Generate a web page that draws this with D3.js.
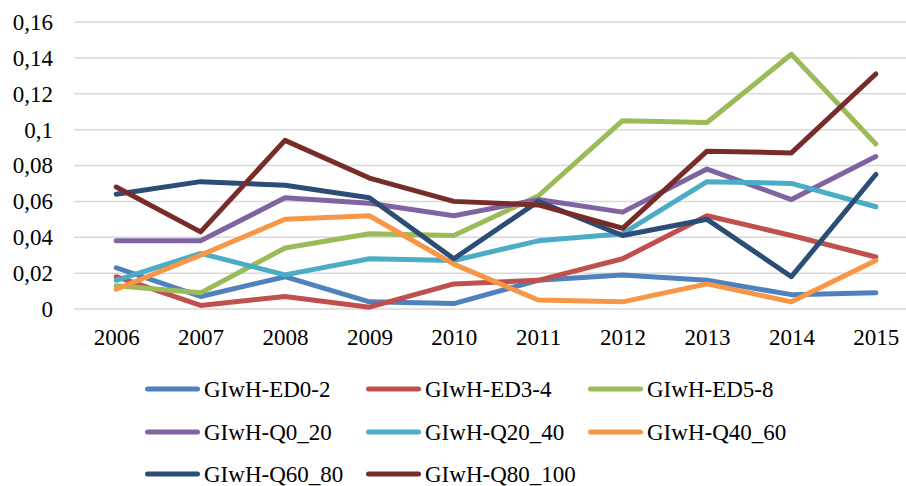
<!DOCTYPE html>
<html>
<head>
<meta charset="utf-8">
<script src="https://cdn.jsdelivr.net/npm/d3@7"></script>
<style>
  html, body { margin: 0; padding: 0; background: #fff; }
  svg { display: block; }
  svg text { font-family: "Liberation Serif", "DejaVu Serif", "Times New Roman", Times, serif !important; }
</style>
</head>
<body>
<div id="chart"></div>
<script>
// Chart data
const years = ["2006", "2007", "2008", "2009", "2010", "2011", "2012", "2013", "2014", "2015"];
const yTicks = [0, 0.02, 0.04, 0.06, 0.08, 0.1, 0.12, 0.14, 0.16];

const seriesNames = ["GIwH-ED0-2", "GIwH-ED3-4", "GIwH-ED5-8", "GIwH-Q0_20", "GIwH-Q20_40",
    "GIwH-Q40_60", "GIwH-Q60_80", "GIwH-Q80_100"];
const seriesColors = ["#4F81BD", "#C0504D", "#9BBB59", "#8064A2", "#4BACC6", "#F79646", "#2C4D75", "#772C2A"];

const ed0_2   = [0.023, 0.007, 0.018, 0.004, 0.003, 0.016, 0.019, 0.016, 0.008, 0.009];
const ed3_4   = [0.018, 0.002, 0.007, 0.001, 0.014, 0.016, 0.028, 0.052, 0.041, 0.029];
const ed5_8   = [0.013, 0.009, 0.034, 0.042, 0.041, 0.063, 0.105, 0.104, 0.142, 0.092];
const q0_20   = [0.038, 0.038, 0.062, 0.059, 0.052, 0.061, 0.054, 0.078, 0.061, 0.085];
const q20_40  = [0.016, 0.031, 0.019, 0.028, 0.027, 0.038, 0.042, 0.071, 0.070, 0.057];
const q40_60  = [0.011, 0.030, 0.050, 0.052, 0.025, 0.005, 0.004, 0.014, 0.004, 0.027];
const q60_80  = [0.064, 0.071, 0.069, 0.062, 0.028, 0.060, 0.041, 0.050, 0.018, 0.075];
const q80_100 = [0.068, 0.043, 0.094, 0.073, 0.060, 0.058, 0.045, 0.088, 0.087, 0.131];

const seriesValues = [ed0_2, ed3_4, ed5_8, q0_20, q20_40, q40_60, q60_80, q80_100];

const W = 906, H = 486;

// Plot area (the original is clipped on the right)
const plot = { left: 74, right: 918, top: 22, bottom: 309 };

const commaLocale = d3.formatLocale({ decimal: ",", thousands: ".", grouping: [3], currency: ["", ""] });
const fmt = commaLocale.format("~r");

const svg = d3.select("#chart").append("svg")
    .attr("width", W)
    .attr("height", H);

const x = d3.scalePoint()
    .domain(years)
    .range([plot.left, plot.right])
    .padding(0.5);

const y = d3.scaleLinear()
    .domain([0, 0.16])
    .range([plot.bottom, plot.top]);

// Gridlines
svg.append("g")
    .selectAll("line")
    .data(yTicks)
    .enter().append("line")
    .attr("x1", plot.left)
    .attr("x2", plot.right)
    .attr("y1", d => y(d))
    .attr("y2", d => y(d))
    .attr("stroke", "#d9d9d9")
    .attr("stroke-width", 1.5);

// Y axis labels
const yAxis = svg.append("g")
    .attr("transform", `translate(${plot.left}, 0)`)
    .call(d3.axisLeft(y).tickValues(yTicks).tickSize(0).tickPadding(21).tickFormat(d => fmt(d)))
    .attr("font-size", 23);
yAxis.select(".domain").remove();
yAxis.selectAll("text").attr("fill", "#000");

// X axis labels
const xAxis = svg.append("g")
    .attr("transform", `translate(0, ${plot.bottom})`)
    .call(d3.axisBottom(x).tickSize(0).tickPadding(20))
    .attr("font-size", 23);
xAxis.select(".domain").remove();
xAxis.selectAll("text").attr("fill", "#000");

// Lines
const line = d3.line()
    .x((d, i) => x(years[i]))
    .y(d => y(d));

seriesValues.forEach((vals, i) => {
    svg.append("path")
        .datum(vals)
        .attr("fill", "none")
        .attr("stroke", seriesColors[i])
        .attr("stroke-width", 5)
        .attr("stroke-linejoin", "round")
        .attr("stroke-linecap", "round")
        .attr("d", line);
});

// Legend
const legendCols = [145, 366, 588];
const legendRows = [389, 432, 474];

const legend = svg.append("g")
    .attr("font-size", 23);
seriesNames.forEach((name, i) => {
    const lx = legendCols[i % 3];
    const ly = legendRows[Math.floor(i / 3)];
    const row = legend.append("g")
        .attr("transform", `translate(${lx}, ${ly})`);
    row.append("line")
        .attr("x1", 2.5)
        .attr("x2", 52.5)
        .attr("y1", 0)
        .attr("y2", 0)
        .attr("stroke", seriesColors[i])
        .attr("stroke-width", 5)
        .attr("stroke-linecap", "round");
    row.append("text")
        .attr("x", 59)
        .attr("y", 0)
        .attr("dy", "0.35em")
        .attr("fill", "#000")
        .text(name);
});
</script>
</body>
</html>
